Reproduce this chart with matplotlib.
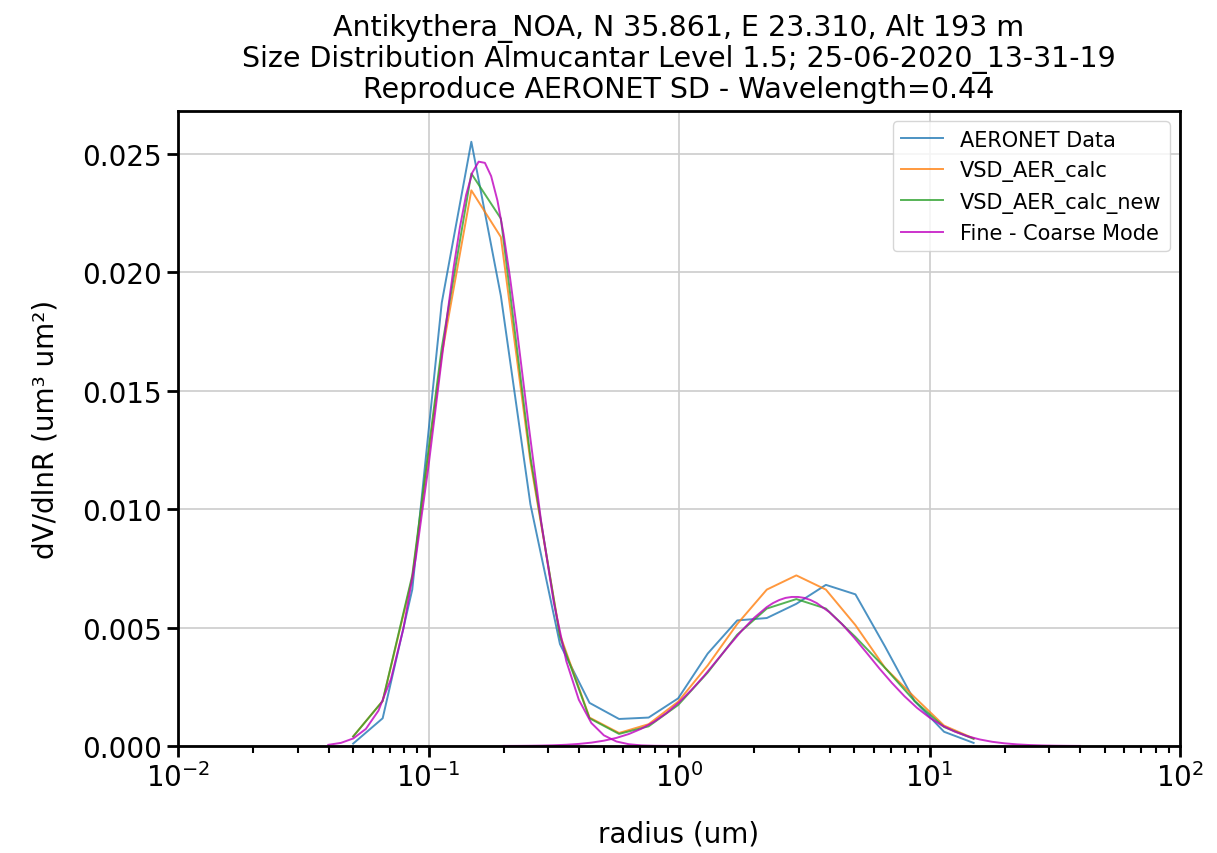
import matplotlib
matplotlib.use("Agg")
from matplotlib import pyplot as plt

# AERONET standard radii (um)
radius = [0.05, 0.0656, 0.0861, 0.1129, 0.1482, 0.1944, 0.2551, 0.3347, 0.4392,
          0.5762, 0.7561, 0.9920, 1.3016, 1.7078, 2.2407, 2.9400, 3.8575, 5.0613,
          6.6407, 8.7131, 11.4323, 15.0]

aeronet = [0.0001, 0.00117, 0.0066, 0.0187, 0.0255, 0.0190, 0.0102, 0.0043, 0.00182,
           0.00114, 0.0012, 0.00201, 0.0039, 0.0053, 0.0054, 0.0060, 0.0068, 0.0064,
           0.0042, 0.0019, 0.0006, 0.00013]

vsd_calc = [0.0004, 0.0019, 0.0071, 0.0165, 0.02345, 0.02148, 0.0120, 0.0047, 0.0012,
            0.00055, 0.00092, 0.00187, 0.0034, 0.00515, 0.0066, 0.0072, 0.0066, 0.0051,
            0.0033, 0.00206, 0.00086, 0.00032]

vsd_calc_new = [0.0004, 0.0019, 0.0072, 0.0168, 0.02416, 0.02226, 0.0122, 0.0046, 0.00117,
                0.00051, 0.00083, 0.00173, 0.0031, 0.0047, 0.0058, 0.0062, 0.0058, 0.0046,
                0.0033, 0.0019, 0.0008, 0.0003]

# fine / coarse mode curves
r_fine = [0.0398, 0.0447, 0.0501, 0.0562, 0.0631, 0.0708, 0.0794, 0.0891, 0.1, 0.1122,
          0.1189, 0.1259, 0.1334, 0.1413, 0.1496, 0.1585, 0.1679, 0.1778, 0.1884, 0.1995,
          0.2113, 0.2239, 0.2512, 0.2818, 0.3162, 0.3548, 0.3981, 0.4467, 0.5012, 0.5623,
          0.6310, 0.7079, 0.7943, 0.8913, 1.0]
fine = [0.0000494, 0.000131, 0.00032, 0.00072, 0.00149, 0.00283, 0.00496, 0.00799, 0.01182,
        0.0161, 0.01822, 0.02018, 0.02189, 0.02326, 0.0242, 0.02466, 0.02461, 0.02405,
        0.02302, 0.02158, 0.0198, 0.0178, 0.01351, 0.00944, 0.00606, 0.00358, 0.00195,
        0.00097, 0.00045, 0.00019, 0.000074, 0.000026, 0.000009, 0.000003, 0.000001]

r_coarse = [0.1995, 0.2239, 0.2512, 0.2818, 0.3162, 0.3548, 0.3981, 0.4467, 0.5012, 0.5623,
            0.6310, 0.7079, 0.7943, 0.8913, 1.0, 1.122, 1.259, 1.413, 1.585, 1.778, 1.995,
            2.239, 2.371, 2.512, 2.661, 2.818, 2.985, 3.162, 3.350, 3.548, 3.981, 4.467,
            5.012, 5.623, 6.310, 7.079, 7.943, 8.913, 10.0, 11.22, 12.59, 14.13, 15.85,
            17.78, 19.95, 22.39, 25.12, 28.18, 31.62, 35.48, 39.81]
coarse = [0.0000027, 0.0000051, 0.0000096, 0.0000174, 0.0000307, 0.0000527, 0.0000878,
          0.000142, 0.000224, 0.000341, 0.000507, 0.00073, 0.00102, 0.00139, 0.00184,
          0.00237, 0.00296, 0.0036, 0.00424, 0.00486, 0.00541, 0.00586, 0.00603, 0.00616,
          0.00625, 0.00629, 0.00629, 0.00625, 0.00616, 0.00603, 0.00565, 0.00515, 0.00456,
          0.00392, 0.00327, 0.00266, 0.0021, 0.00161, 0.0012, 0.000866, 0.00061, 0.000416,
          0.000277, 0.000178, 0.000112, 0.0000682, 0.0000404, 0.0000232, 0.000013,
          0.000007, 0.0000035]

fig = plt.figure(figsize=(12.17, 8.54), dpi=100)
ax = fig.add_axes([0.1463, 0.1253, 0.8233, 0.7436])

ax.plot(radius, aeronet, color="tab:blue", lw=1.4, alpha=0.8, label="AERONET Data")
ax.plot(radius, vsd_calc, color="tab:orange", lw=1.4, alpha=0.8, label="VSD_AER_calc")
ax.plot(radius, vsd_calc_new, color="tab:green", lw=1.4, alpha=0.8, label="VSD_AER_calc_new")
ax.plot(r_fine, fine, color="m", lw=1.4, alpha=0.8, label="Fine - Coarse Mode")
ax.plot(r_coarse, coarse, color="m", lw=1.4, alpha=0.8)

ax.set_xscale("log")
ax.set_xlim(1e-2, 1e2)
ax.set_ylim(0, 0.0268)
ax.set_yticks([0, 0.005, 0.01, 0.015, 0.02, 0.025])
ax.grid(True, which="major", color="#cccccc", lw=1.2)
ax.set_axisbelow(True)

for s in ax.spines.values():
    s.set_linewidth(2)
ax.tick_params(which="major", labelsize=20, width=2, length=8)
ax.tick_params(which="minor", width=1.5, length=5)

ax.set_xlabel("radius (um)", fontsize=20, labelpad=20)
ax.set_ylabel("dV/dlnR (um³ um²)", fontsize=20, labelpad=16)
ax.set_title("Antikythera_NOA, N 35.861, E 23.310, Alt 193 m\n"
             "Size Distribution Almucantar Level 1.5; 25-06-2020_13-31-19\n"
             "Reproduce AERONET SD - Wavelength=0.44", fontsize=20.5, linespacing=1.1, pad=10)

ax.legend(loc="upper right", fontsize=15)

fig.savefig("out.png", dpi=100)
